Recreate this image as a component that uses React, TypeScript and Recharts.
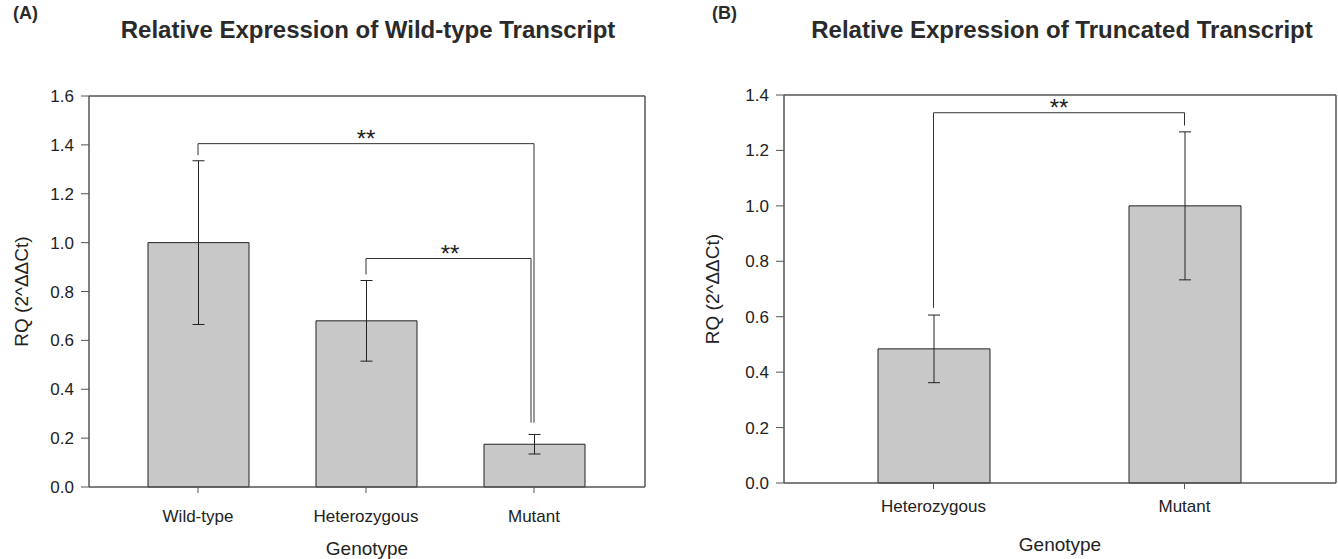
import React from 'react';
import { BarChart, Bar, XAxis, YAxis, ErrorBar, ReferenceLine } from 'recharts';

// panel A: wild-type transcript
const genotypesA = ['Wild-type', 'Heterozygous', 'Mutant'];
const rqA = [1.0, 0.68, 0.175];
const errA = [0.335, 0.165, 0.04];
const ticksA = [0, 0.2, 0.4, 0.6, 0.8, 1.0, 1.2, 1.4, 1.6];

// panel B: truncated transcript
const genotypesB = ['Heterozygous', 'Mutant'];
const rqB = [0.484, 1.0];
const errB = [0.122, 0.267];
const ticksB = [0, 0.2, 0.4, 0.6, 0.8, 1.0, 1.2, 1.4];

// significance brackets: [left group, right group, top, left foot, right foot]
const bracketsA = [
  ['Wild-type', 'Mutant', 1.405, 1.358, 0.263],
  ['Heterozygous', 'Mutant', 0.935, 0.87, 0.263],
] as const;
const bracketsB = [['Heterozygous', 'Mutant', 1.336, 0.632, 1.29]] as const;

const FONT = '"Liberation Sans", Arial, sans-serif';
const INK = '#222';
const AXIS = '#555';

const dataA = genotypesA.map((g, i) => ({ genotype: g, rq: rqA[i], err: errA[i] }));
const dataB = genotypesB.map((g, i) => ({ genotype: g, rq: rqB[i], err: errB[i] }));

const seg = (dx1: number, dx2: number) => (p: any) => (
  <line x1={p.x1 + dx1} y1={p.y1} x2={p.x2 + dx2} y2={p.y2} stroke="#333" strokeWidth={1} />
);

function Brackets(brackets: readonly (readonly [string, string, number, number, number])[], shifts: number[]) {
  return brackets.flatMap(([a, b, top, footA, footB], i) => {
    const s = shifts[i] || 0;
    return [
      <ReferenceLine
        key={`h${i}`}
        segment={[{ x: a, y: top }, { x: b, y: top }]}
        shape={seg(0, s)}
        label={{ value: '**', position: 'top', offset: -3, fill: INK, fontSize: 24, fontFamily: FONT }}
      />,
      <ReferenceLine key={`l${i}`} segment={[{ x: a, y: top }, { x: a, y: footA }]} shape={seg(0, 0)} />,
      <ReferenceLine key={`r${i}`} segment={[{ x: b, y: top }, { x: b, y: footB }]} shape={seg(s, s)} />,
    ];
  });
}

function Panel({ data, ticks, max, barSize, pad, tickGap, brackets, shifts, labelDx, margin, width }: any) {
  return (
    <BarChart width={width} height={559} data={data} margin={margin}>
      <XAxis
        dataKey="genotype"
        padding={pad}
        height={70}
        tickSize={6}
        tickMargin={tickGap}
        tick={{ fill: INK, fontSize: 17, fontFamily: FONT }}
        axisLine={{ stroke: AXIS, strokeWidth: 1.5 }}
        tickLine={{ stroke: AXIS }}
        label={{ value: 'Genotype', position: 'insideBottom', offset: 2, fill: INK, fontSize: 19, fontFamily: FONT }}
      />
      <XAxis xAxisId="top" orientation="top" dataKey="genotype" height={1} tick={false} tickLine={false} axisLine={{ stroke: AXIS, strokeWidth: 1.5 }} />
      <YAxis
        domain={[0, max]}
        ticks={ticks}
        width={60}
        tickSize={8}
        tickMargin={7}
        tickFormatter={(v: number) => v.toFixed(1)}
        tick={{ fill: INK, fontSize: 17, fontFamily: FONT }}
        axisLine={{ stroke: AXIS, strokeWidth: 1.5 }}
        tickLine={{ stroke: AXIS }}
        label={{ value: 'RQ (2^ΔΔCt)', angle: -90, position: 'center', dx: labelDx, fill: INK, fontSize: 19, fontFamily: FONT }}
      />
      <YAxis yAxisId="r" orientation="right" domain={[0, max]} width={1} tick={false} tickLine={false} axisLine={{ stroke: AXIS, strokeWidth: 1.5 }} />
      <Bar dataKey="rq" fill="#c8c8c8" stroke={INK} strokeWidth={1} barSize={barSize} isAnimationActive={false}>
        <ErrorBar dataKey="err" width={6} stroke={INK} strokeWidth={1} direction="y" />
      </Bar>
      {Brackets(brackets, shifts)}
    </BarChart>
  );
}

export default function App() {
  return (
    <div style={{ position: 'absolute', left: 0, top: 0, width: 1338, height: 559, background: '#fff', fontFamily: FONT }}>
      <div style={{ position: 'absolute', left: 0, top: 0 }}>
        <Panel
          data={dataA}
          ticks={ticksA}
          max={1.6}
          barSize={101}
          pad={{ left: 25, right: 27 }}
          tickGap={17}
          brackets={bracketsA}
          shifts={[0, -3]}
          labelDx={-38}
          width={660}
          margin={{ top: 95, left: 29, right: 14, bottom: 2 }}
        />
      </div>
      <div style={{ position: 'absolute', left: 660, top: 0 }}>
        <Panel
          data={dataB}
          ticks={ticksB}
          max={1.4}
          barSize={112}
          pad={{ left: 24, right: 26 }}
          tickGap={11}
          brackets={bracketsB}
          shifts={[0]}
          labelDx={-42}
          width={678}
          margin={{ top: 94, left: 64, right: 1, bottom: 6 }}
        />
      </div>
      <svg width={1338} height={60} style={{ position: 'absolute', left: 0, top: 0, pointerEvents: 'none' }}>
        <g fontFamily={FONT} fontWeight="bold" fill="#2a2a2a">
          <text x={13} y={19} fontSize={18}>(A)</text>
          <text x={368} y={38} fontSize={24} textAnchor="middle">Relative Expression of Wild-type Transcript</text>
          <text x={712} y={19} fontSize={18}>(B)</text>
          <text x={1062} y={38} fontSize={24} textAnchor="middle">Relative Expression of Truncated Transcript</text>
        </g>
      </svg>
    </div>
  );
}
